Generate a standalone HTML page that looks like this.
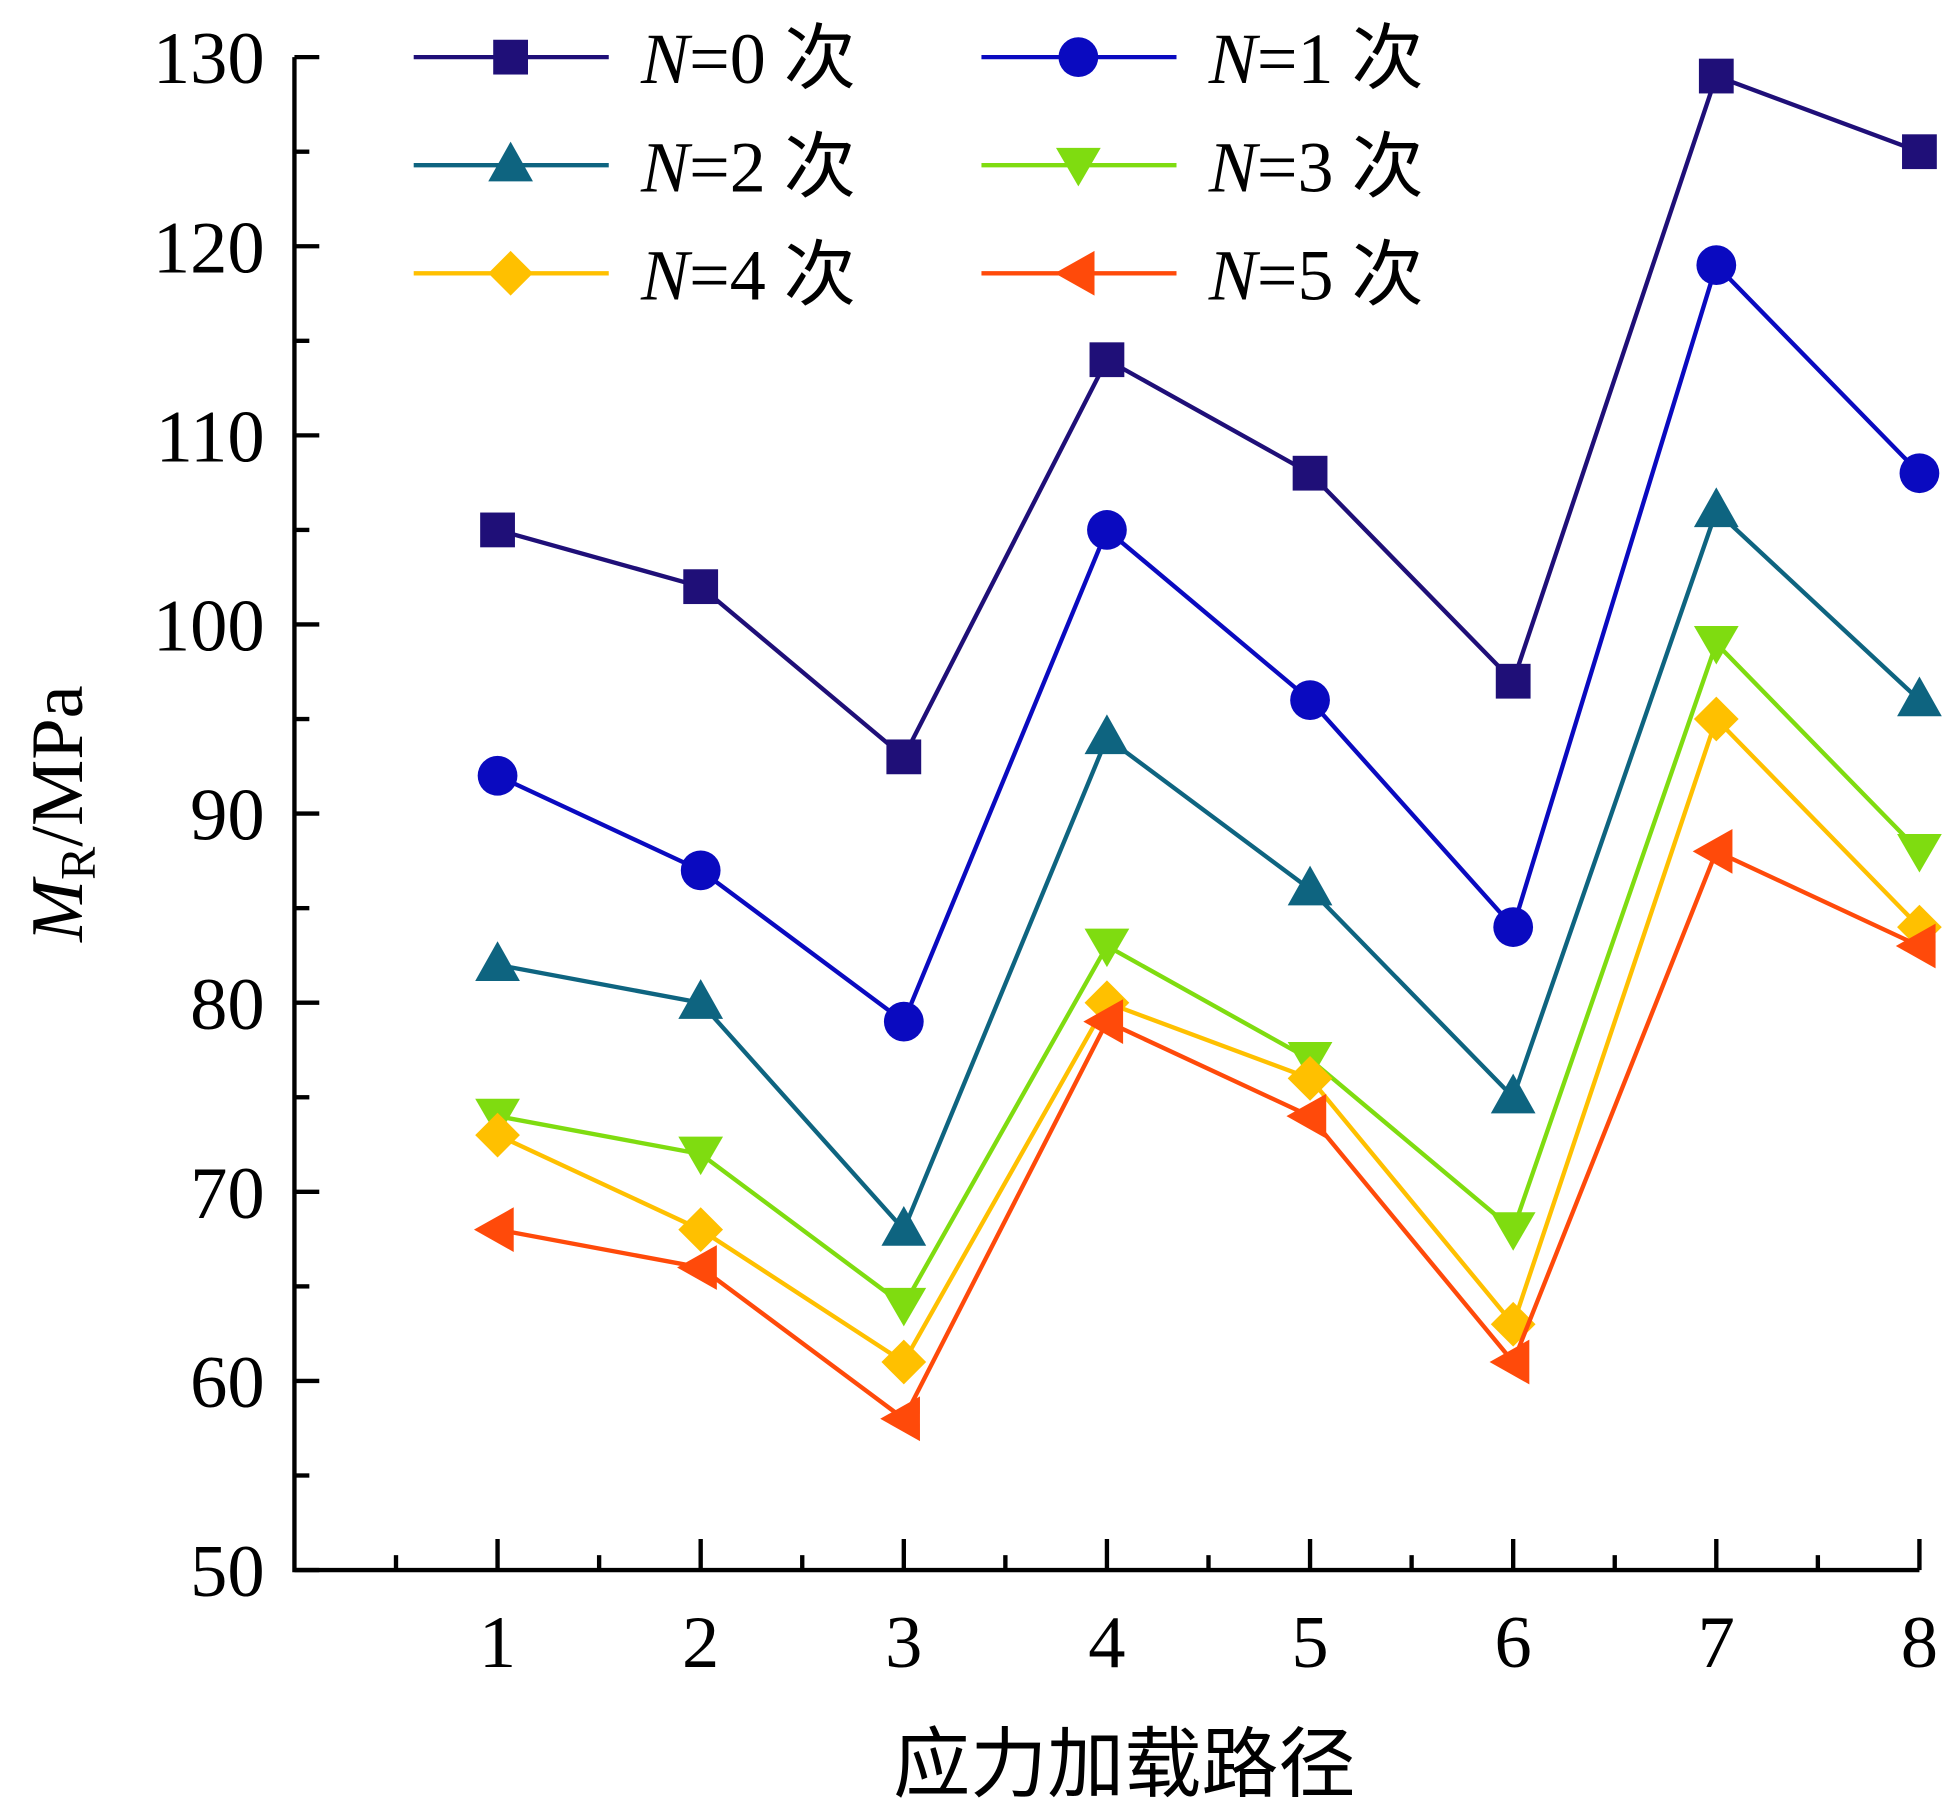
<!DOCTYPE html>
<html><head><meta charset="utf-8"><style>html,body{margin:0;padding:0;background:#fff}svg{display:block}</style></head>
<body>
<svg id="s" width="1948" height="1816" viewBox="0 0 1568 1462" preserveAspectRatio="none" xmlns="http://www.w3.org/2000/svg" style="font-family:'Liberation Serif','Noto Serif CJK SC',serif"></svg>
<script>
const s=document.getElementById('s');
let h='<rect width="1568" height="1462" fill="#fff"/>';
const X=v=>237+v*163.5, Y=v=>1264-(v-50)*15.225;
const CJK="style=\"font-family:'Noto Sans CJK SC',sans-serif\"";
h+='<g stroke="#000" stroke-width="3.5" fill="none"><path d="M237,46 V1264 H1545"/>';
for(let v=50;v<=130;v+=5){const L=v%10==0?20:12;h+=`<path d="M237,${Y(v)} h${L}"/>`;}
for(let i=0.5;i<=8;i+=0.5){const L=Number.isInteger(i)?25:12;h+=`<path d="M${X(i)},1264 v-${L}"/>`;}
h+='</g><g font-size="60" text-anchor="end" fill="#000">';
for(let v=50;v<=130;v+=10)h+=`<text x="213" y="${Y(v)+21}">${v}</text>`;
h+='</g><g font-size="60" text-anchor="middle">';
for(let i=1;i<=8;i++)h+=`<text x="${X(i)}" y="1342">${i}</text>`;
h+='</g>';
h+=`<text x="905" y="1442" font-size="62" text-anchor="middle" ${CJK}>应力加载路径</text>`;
h+='<text transform="translate(66,655) rotate(-90)" font-size="60" text-anchor="middle"><tspan font-style="italic">M</tspan><tspan font-size="40" dy="10">R</tspan><tspan dy="-10">/MPa</tspan></text>';
const S=[
['#1f0f78','sq',[105,102,93,114,108,97,129,125]],
['#0a0ac0','ci',[92,87,79,105,96,84,119,108]],
['#0e6480','tu',[82,80,68,94,86,75,106,96]],
['#7fdc10','td',[74,72,64,83,77,68,99,88]],
['#ffc000','di',[73,68,61,80,76,63,95,84]],
['#ff4a0a','tl',[68,66,58,79,74,61,88,83]]];
function mk(t,x,y,c){
 if(t=='sq')return `<rect x="${x-14}" y="${y-14}" width="28" height="28" fill="${c}"/>`;
 if(t=='ci')return `<circle cx="${x}" cy="${y}" r="16" fill="${c}"/>`;
 if(t=='tu')return `<polygon points="${x},${y-19} ${x+18},${y+13} ${x-18},${y+13}" fill="${c}"/>`;
 if(t=='td')return `<polygon points="${x},${y+17} ${x+18},${y-14} ${x-18},${y-14}" fill="${c}"/>`;
 if(t=='di')return `<polygon points="${x},${y-18} ${x+18},${y} ${x},${y+18} ${x-18},${y}" fill="${c}"/>`;
 if(t=='tl')return `<polygon points="${x-19},${y} ${x+13},${y-18} ${x+13},${y+18}" fill="${c}"/>`;
}
S.forEach(([c,t,d])=>{
 h+=`<polyline fill="none" stroke="${c}" stroke-width="3.5" points="${d.map((v,i)=>X(i+1)+','+Y(v)).join(' ')}"/>`;
 d.forEach((v,i)=>h+=mk(t,X(i+1),Y(v),c));
});
S.forEach(([c,t],k)=>{
 const col=k%2, row=Math.floor(k/2);
 const x0=col?790:333, y=46+row*87;
 h+=`<line x1="${x0}" x2="${x0+157}" y1="${y}" y2="${y}" stroke="${c}" stroke-width="3.5"/>`+mk(t,x0+78,y,c);
 h+=`<text x="${x0+183}" y="${y+21}" font-size="58"><tspan font-style="italic">N</tspan>=${k} <tspan ${CJK}>次</tspan></text>`;
});
s.innerHTML=h;
</script>
</body></html>
